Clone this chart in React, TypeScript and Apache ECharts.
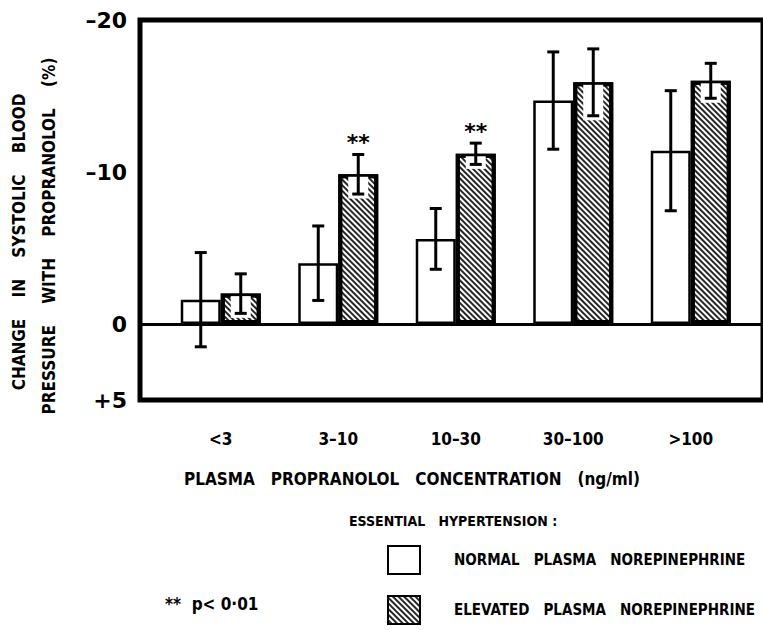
import React, { useEffect, useRef } from "react";
import * as echarts from "echarts";

// ---- data ----
const categories = ["<3", "3\u201310", "10\u201330", "30\u2013100", ">100"];
const normalMean = [-1.6, -4.0, -5.6, -14.7, -11.4];
const normalErr = [3.1, 2.45, 2.0, 3.2, 3.95];
const elevatedMean = [-2.0, -9.85, -11.2, -15.9, -16.0];
const elevatedErr = [1.3, 1.3, 0.7, 2.2, 1.15];
const significant = [false, true, true, false, false];
const yTickLabels: Record<string, string> = { "-20": "\u201320", "-10": "\u201310", "0": "0", "5": "+5" };

const SERIES_NORMAL = "NORMAL PLASMA NOREPINEPHRINE";
const SERIES_ELEVATED = "ELEVATED PLASMA NOREPINEPHRINE";

const FONT = "'DejaVu Sans Condensed', 'DejaVu Sans', sans-serif";
const BAR_W = 40;
const NB = "\u00a0";
const wide = (s: string, n = 3) => s.replace(/ /g, NB.repeat(n));

function errorRenderer(side: number, withWhite: boolean, sigArr: boolean[] | null) {
  return (params: any, api: any) => {
    const i = api.value(0);
    const mean = api.value(1);
    const err = api.value(2);
    const top = api.coord([i, mean - err]);
    const bot = api.coord([i, mean + err]);
    const barTop = api.coord([i, mean]);
    const x = top[0] + side * BAR_W / 2;
    const cap = 6;
    const children: any[] = [];
    if (withWhite) {
      children.push({
        type: "rect",
        shape: { x: x - 10, y: barTop[1] + 2.5, width: 20, height: Math.max(0, bot[1] - barTop[1] + 2) },
        style: { fill: "#fff" },
      });
    }
    children.push(
      { type: "line", shape: { x1: x, y1: top[1], x2: x, y2: bot[1] }, style: { stroke: "#000", lineWidth: 3 } },
      { type: "line", shape: { x1: x - cap, y1: top[1], x2: x + cap, y2: top[1] }, style: { stroke: "#000", lineWidth: 3 } },
      { type: "line", shape: { x1: x - cap, y1: bot[1], x2: x + cap, y2: bot[1] }, style: { stroke: "#000", lineWidth: 3 } }
    );
    if (sigArr && sigArr[params.dataIndex]) {
      children.push({
        type: "text",
        x: x,
        y: top[1] - 12,
        style: { text: "**", fontSize: 22, fontFamily: "DejaVu Sans", fontWeight: "bold", fill: "#000", align: "center", verticalAlign: "middle" },
      });
    }
    return { type: "group", children };
  };
}

export default function App() {
  const ref = useRef<HTMLDivElement>(null);
  useEffect(() => {
    if (!ref.current) return;
    const chart = echarts.init(ref.current, null, { renderer: "svg" });
    const hatch = {
      symbol: "rect",
      symbolSize: 1,
      color: "rgba(0,0,0,0.85)",
      dashArrayX: [1, 0],
      dashArrayY: [1.1, 1.3],
      rotation: Math.PI / 4,
    };
    const option: any = {
      animation: false,
      backgroundColor: "#fff",
      grid: [
        { left: 140, top: 20, right: -4, bottom: 230, show: true, borderColor: "#000", borderWidth: 5, backgroundColor: "transparent" },
        { left: 162, top: 20, right: 13.5, bottom: 230 },
      ],
      xAxis: [
        { gridIndex: 0, type: "value", min: 0, max: 1, show: false },
        {
          gridIndex: 1,
          type: "category",
          data: categories,
          axisLine: { show: false },
          axisTick: { show: false },
          axisLabel: { margin: 30, fontSize: 17, fontWeight: "bold", fontFamily: FONT, color: "#000" },
        },
      ],
      yAxis: [
        {
          gridIndex: 0,
          type: "value",
          min: -20,
          max: 5,
          interval: 5,
          inverse: true,
          axisLine: { show: false },
          axisTick: { show: false },
          splitLine: { show: false },
          axisLabel: {
            formatter: (v: number) => yTickLabels[String(v)] ?? "",
            fontSize: 22,
            fontWeight: "bold",
            fontFamily: "DejaVu Sans",
            color: "#000",
            margin: 13,
            padding: [0, 0, 8, 0],
          },
        },
        { gridIndex: 1, type: "value", min: -20, max: 5, interval: 5, inverse: true, show: false },
      ],
      legend: {
        orient: "vertical",
        left: 387,
        top: 545,
        padding: 0,
        itemWidth: 32,
        itemHeight: 28,
        itemGap: 20,
        icon: "rect",
        data: [SERIES_NORMAL, SERIES_ELEVATED],
        formatter: (name: string) => wide(name),
        textStyle: { fontFamily: FONT, fontWeight: "bold", fontSize: 15, color: "#000", padding: [0, 0, 0, 29] },
      },
      series: [
        {
          type: "line",
          xAxisIndex: 0,
          yAxisIndex: 0,
          data: [],
          markLine: {
            silent: true,
            symbol: ["none", "none"],
            label: { show: false },
            lineStyle: { color: "#000", width: 3, type: "solid" },
            data: [{ yAxis: 0 }],
          },
        },
        {
          name: SERIES_NORMAL,
          type: "bar",
          xAxisIndex: 1,
          yAxisIndex: 1,
          barWidth: BAR_W,
          barGap: "0%",
          data: normalMean,
          itemStyle: { color: "#fff", borderColor: "#000", borderWidth: 2.5 },
        },
        {
          name: SERIES_ELEVATED,
          type: "bar",
          xAxisIndex: 1,
          yAxisIndex: 1,
          barWidth: BAR_W,
          barGap: "0%",
          data: elevatedMean,
          itemStyle: { color: "#fff", borderColor: "#000", borderWidth: 4, decal: hatch },
        },
        {
          type: "custom",
          xAxisIndex: 1,
          yAxisIndex: 1,
          z: 5,
          data: normalMean.map((m, i) => [i, m, normalErr[i]]),
          renderItem: errorRenderer(-1, false, null),
        },
        {
          type: "custom",
          xAxisIndex: 1,
          yAxisIndex: 1,
          z: 5,
          data: elevatedMean.map((m, i) => [i, m, elevatedErr[i]]),
          renderItem: errorRenderer(1, true, significant),
        },
      ],
      graphic: [
        {
          type: "text",
          x: 19,
          y: 242,
          rotation: Math.PI / 2,
          style: { text: wide("CHANGE IN SYSTOLIC BLOOD", 4), fontFamily: FONT, fontWeight: "bold", fontSize: 17, fill: "#000", align: "center", verticalAlign: "middle" },
        },
        {
          type: "text",
          x: 49,
          y: 236,
          rotation: Math.PI / 2,
          style: { text: wide("PRESSURE WITH PROPRANOLOL (%)", 4), fontFamily: FONT, fontWeight: "bold", fontSize: 17, fill: "#000", align: "center", verticalAlign: "middle" },
        },
        {
          type: "text",
          x: 412,
          y: 479,
          style: { text: wide("PLASMA PROPRANOLOL CONCENTRATION (ng/ml)"), fontFamily: FONT, fontWeight: "bold", fontSize: 17, fill: "#000", align: "center", verticalAlign: "middle" },
        },
        {
          type: "text",
          x: 349,
          y: 521,
          style: { text: "ESSENTIAL" + NB.repeat(3) + "HYPERTENSION" + NB + ":", fontFamily: FONT, fontWeight: "bold", fontSize: 14, fill: "#000", align: "left", verticalAlign: "middle" },
        },
        {
          type: "text",
          x: 165,
          y: 604,
          style: { text: "**" + NB + NB + "p<" + NB + "0\u00b701", fontFamily: FONT, fontWeight: "bold", fontSize: 17, fill: "#000", align: "left", verticalAlign: "middle" },
        },
      ],
    };
    chart.setOption(option);
    return () => chart.dispose();
  }, []);
  return <div ref={ref} style={{ position: "fixed", left: 0, top: 0, width: 763, height: 630, background: "#fff" }} />;
}
